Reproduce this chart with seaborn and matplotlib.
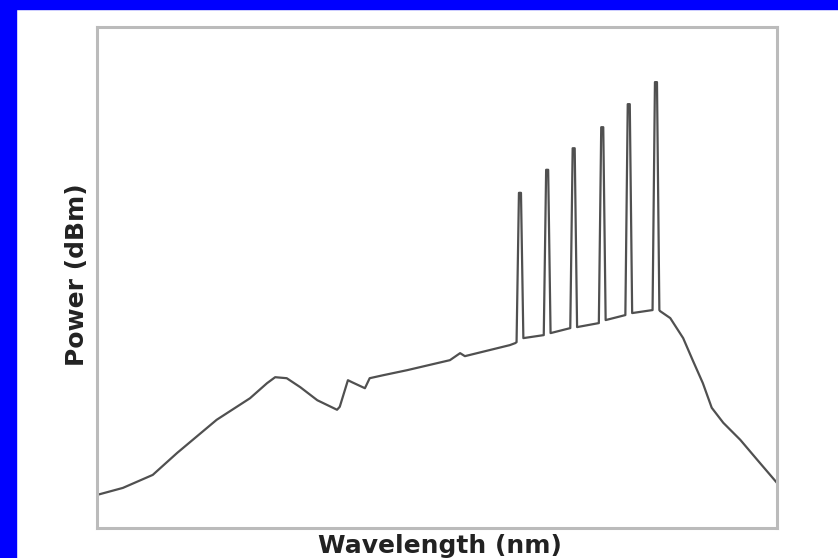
import numpy as np
import seaborn as sns
import matplotlib.pyplot as plt
from matplotlib.patches import Rectangle

# broadband background (arbitrary units)
wl_base = [0.0, 3.8, 8.2, 11.8, 17.6, 22.5, 25.0, 26.2, 27.9, 29.9, 32.4, 35.3, 35.7,
           36.9, 37.5, 39.4, 40.1, 42.1, 45.6, 51.9, 53.4, 54.1, 60.7, 61.5,
           82.8, 84.3, 86.2, 87.6, 89.1, 90.4, 92.1, 94.6, 97.1, 100.0]
pw_base = [6.6, 8.0, 10.6, 15.0, 21.6, 25.9, 28.9, 30.1, 29.9, 28.1, 25.5, 23.6, 24.2,
           29.5, 29.1, 27.9, 29.9, 30.5, 31.5, 33.5, 34.9, 34.3, 36.5, 36.9,
           43.3, 41.9, 37.9, 33.5, 28.9, 24.0, 21.0, 17.6, 13.6, 9.0]

# the six laser lines
peak_wl = [62.2, 66.2, 70.1, 74.3, 78.2, 82.2]
peak_top = [66.9, 71.5, 75.8, 80.0, 84.6, 89.0]
base_left = [37.1, 38.5, 39.9, 40.9, 42.5, 43.5]
base_right = [37.9, 38.9, 40.1, 41.5, 42.9, 43.5]

# build the spikes into the trace
wl = list(wl_base)
pw = list(pw_base)
for c, top, bl, br in zip(peak_wl, peak_top, base_left, base_right):
    wl += [c - 0.5, c - 0.15, c + 0.15, c + 0.5]
    pw += [bl, top, top, br]
order = np.argsort(wl)
wl = np.array(wl)[order]
pw = np.array(pw)[order]

sns.set_style("white")
fig = plt.figure(figsize=(8.38, 5.58), dpi=100)
ax = fig.add_axes([97/838, 1 - 528/558, 680/838, 501/558])

sns.lineplot(x=wl, y=pw, ax=ax, color='#505050', linewidth=1.6, estimator=None)

ax.set_xlim(0, 100)
ax.set_ylim(0, 100)
ax.set_xticks([])
ax.set_yticks([])
for s in ax.spines.values():
    s.set_color('#bbbbbb')
    s.set_linewidth(2.2)

ax.set_xlabel('Wavelength (nm)', fontsize=18, fontweight='bold', color='#222222')
ax.set_ylabel('Power (dBm)', fontsize=18, fontweight='bold', color='#222222')
ax.xaxis.set_label_coords(0.504, -0.012)
ax.yaxis.set_label_coords(-0.012, 0.505)

# blue frame of the original picture
fig.patches.append(Rectangle((0, 1 - 9/558), 1, 9/558, transform=fig.transFigure,
                             color='#0000ff', zorder=10))
fig.patches.append(Rectangle((0, 0), 16/838, 1, transform=fig.transFigure,
                             color='#0000ff', zorder=10))

plt.savefig('out.png', dpi=100)
